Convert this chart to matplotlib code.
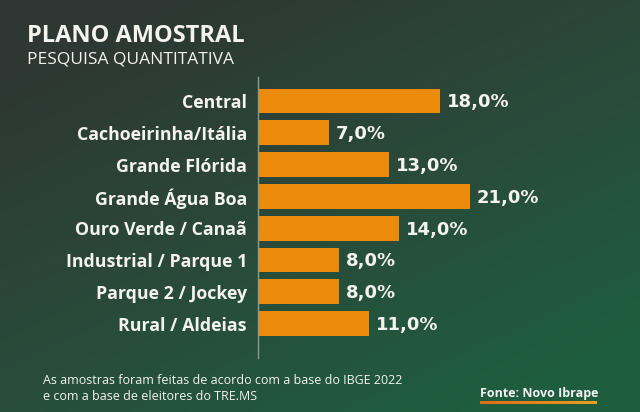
import numpy as np
import matplotlib
matplotlib.use("Agg")
import matplotlib.pyplot as plt
from matplotlib.colors import LinearSegmentedColormap

regioes = ["Central", "Cachoeirinha/Itália", "Grande Flórida", "Grande Água Boa",
           "Ouro Verde / Canaã", "Industrial / Parque 1", "Parque 2 / Jockey",
           "Rural / Aldeias"]
percentuais = [18.0, 7.0, 13.0, 21.0, 14.0, 8.0, 8.0, 11.0]

W, H = 640, 412
fig = plt.figure(figsize=(W / 100, H / 100), dpi=100)

# background gradient: dark grey-green top-left to green bottom-right
bg = fig.add_axes([0, 0, 1, 1])
bg.set_axis_off()
xx, yy = np.meshgrid(np.linspace(0, 1, 200), np.linspace(0, 1, 130))
t = np.clip(0.55 * xx + 0.75 * yy - 0.15, 0, 1)
cmap_bg = LinearSegmentedColormap.from_list("bg", ["#2e3733", "#2a4a3a", "#1f5d3f"])
bg.imshow(t, cmap=cmap_bg, extent=[0, 1, 0, 1], aspect="auto", origin="upper")
bg.set_xlim(0, 1)
bg.set_ylim(0, 1)

font = "Open Sans"
white = "#f3f3f0"
orange = "#ec8a0c"

fig.text(27 / W, 1 - 36 / H, "PLANO AMOSTRAL", color=white, fontsize=17,
         fontweight="bold", family=font, va="center", ha="left")
fig.text(27 / W, 1 - 59 / H, "PESQUISA QUANTITATIVA", color=white, fontsize=12.5,
         family=font, va="center", ha="left")

# bar axes
px_per_unit = 10.1
left_px, top_px, bot_px = 258, 77, 358
step_px = 31.8
ax = fig.add_axes([left_px / W, (H - bot_px) / H, (W - left_px) / W, (bot_px - top_px) / H])
ax.patch.set_alpha(0)
y = np.arange(len(regioes))
ax.barh(y, percentuais, height=0.78, color=orange)
ax.set_xlim(0, (W - left_px) / px_per_unit)
top_units = (101 - top_px) / step_px
ax.set_ylim((bot_px - top_px) / step_px - top_units, -top_units)
for s in ["top", "right", "bottom"]:
    ax.spines[s].set_visible(False)
ax.spines["left"].set_color("#8c9a92")
ax.spines["left"].set_linewidth(1)
ax.set_xticks([])
ax.set_yticks(y)
ax.set_yticklabels(regioes, color=white, fontsize=12.8, fontweight="bold", family=font)
ax.tick_params(axis="y", length=0, pad=8)

for i, v in enumerate(percentuais):
    ax.annotate(f"{v:.1f}".replace(".", ",") + "%", (v, i), xytext=(5, -1),
                textcoords="offset points", va="center", ha="left",
                color=white, fontsize=13, fontweight="bold", family="DejaVu Sans")

fig.text(43 / W, 1 - 380 / H, "As amostras foram feitas de acordo com a base do IBGE 2022",
         color=white, fontsize=9, family=font, va="center", ha="left")
fig.text(43 / W, 1 - 397 / H, "e com a base de eleitores do TRE.MS",
         color=white, fontsize=9, family=font, va="center", ha="left")
fig.text(480 / W, 1 - 393 / H, "Fonte: Novo Ibrape", color=white, fontsize=9,
         fontweight="bold", family=font, va="center", ha="left")

# underline gradient orange -> yellow
ul = fig.add_axes([480 / W, 1 - 404 / H, 117 / W, 3 / H])
ul.set_axis_off()
ul.imshow(np.linspace(0, 1, 100).reshape(1, -1), aspect="auto",
          cmap=LinearSegmentedColormap.from_list("ul", ["#e06a1a", "#e8a020"]))

fig.savefig("out.png", dpi=100)
